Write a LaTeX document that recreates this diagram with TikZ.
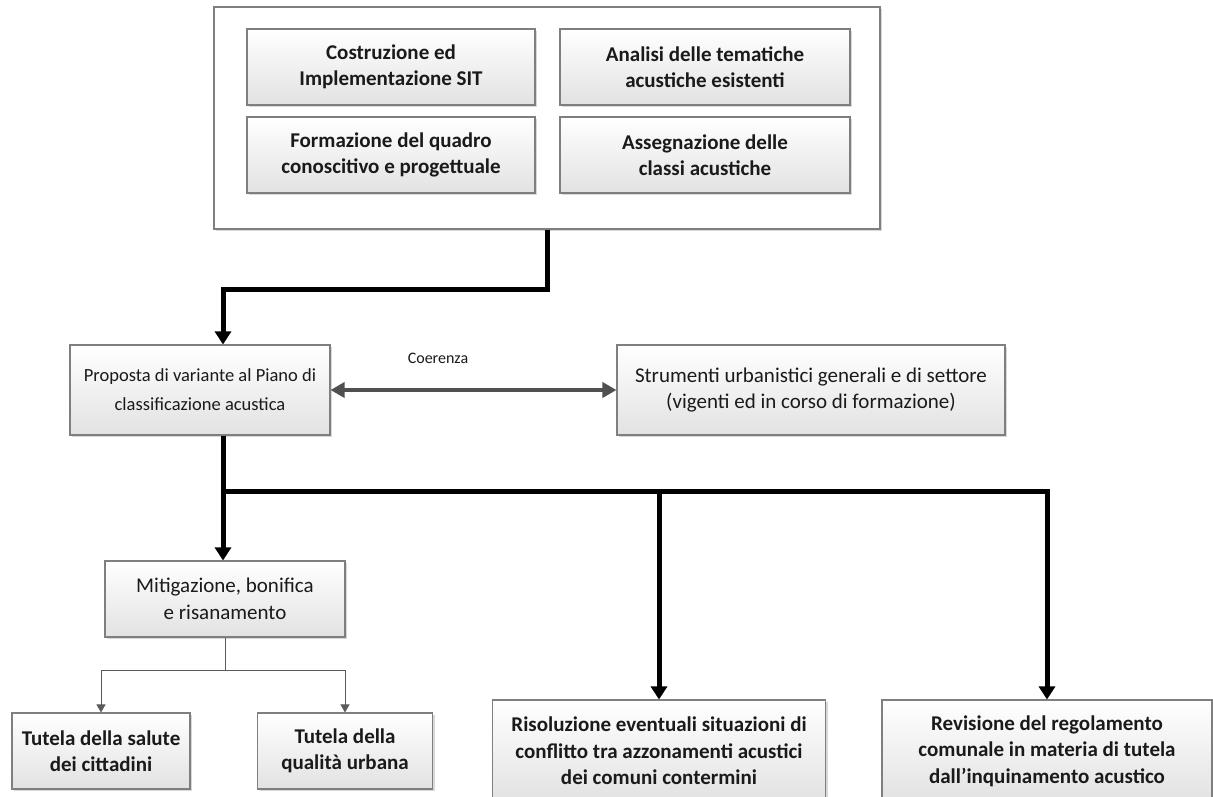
\documentclass[tikz,border=0pt]{standalone}
\usepackage{fontspec}
\setmainfont{Carlito}
\usetikzlibrary{arrows.meta,shadows}
\definecolor{boxline}{HTML}{7F7F7F}
\definecolor{boxbot}{HTML}{E2E2E2}
\definecolor{dgray}{HTML}{505050}
\definecolor{lgray}{HTML}{5A5A5A}
\definecolor{txt}{HTML}{1A1A1A}
\begin{document}
\begin{tikzpicture}[x=1pt,y=-1pt,
  box/.style={draw=boxline, line width=1.1pt, top color=white, bottom color=boxbot,
    align=center, inner sep=2pt, text=txt, font=\fontsize{21}{26.5}\selectfont,
    drop shadow={shadow xshift=2pt, shadow yshift=-2pt, fill=black!30, opacity=0.5}},
  bbox/.style={box, font=\fontsize{21}{26.5}\selectfont\bfseries},
  frame/.style={draw=boxline, line width=1.1pt, fill=white,
    drop shadow={shadow xshift=2pt, shadow yshift=-2pt, fill=black!30, opacity=0.5}},
  conn/.style={line width=5pt, black, -{Triangle[length=13pt,width=16pt]}},
  coer/.style={line width=4pt, dgray, {Triangle[length=14pt,width=15pt]}-{Triangle[length=14pt,width=15pt]}},
  thinconn/.style={line width=1pt, lgray, -{Triangle[length=8pt,width=9pt]}},
  thinline/.style={line width=1pt, lgray}
]
\clip (0,0) rectangle (1213,796);
\fill[white] (0,0) rectangle (1213,796);

% top frame and inner boxes
\node[frame, minimum width=666, minimum height=222] (outer) at (547,118) {};
\node[bbox, minimum width=288, minimum height=76] (c1) at (391,67) {Costruzione ed\\Implementazione SIT};
\node[bbox, minimum width=290, minimum height=76] (c2) at (705,67) {Analisi delle tematiche\\acustiche esistenti};
\node[bbox, minimum width=288, minimum height=76] (c3) at (391,155) {Formazione del quadro\\conoscitivo e progettuale};
\node[bbox, minimum width=290, minimum height=76] (c4) at (705,155) {Assegnazione delle\\classi acustiche};

% middle row
\node[box, font=\fontsize{18.5}{29}\selectfont, minimum width=260, minimum height=90] (prop) at (200,390) {Proposta di variante al Piano di\\classificazione acustica};
\node[box, minimum width=388, minimum height=90] (strum) at (811,390) {Strumenti urbanistici generali e di settore\\(vigenti ed in corso di formazione)};
\node[text=txt, font=\fontsize{16}{19}\selectfont] (coerlabel) at (438,358) {Coerenza};

% lower boxes
\node[box, minimum width=240, minimum height=76] (mit) at (225,599) {Mitigazione, bonifica\\e risanamento};
\node[bbox, minimum width=178, minimum height=76] (tut1) at (101,751) {Tutela della salute\\dei cittadini};
\node[bbox, minimum width=175, minimum height=76] (tut2) at (345,751) {Tutela della\\qualità urbana};
\node[bbox, minimum width=333, minimum height=102] (ris) at (659,751) {Risoluzione eventuali situazioni di\\conflitto tra azzonamenti acustici\\dei comuni contermini};
\node[bbox, minimum width=330, minimum height=102] (rev) at (1047,751) {Revisione del regolamento\\comunale in materia di tutela\\dall’inquinamento acustico};

% connectors
\coordinate (pin) at ([xshift=23pt]prop.north);
\coordinate (pout) at ([xshift=23pt]prop.south);
\draw[conn] (outer.south) -- ++(0,60) -| (pin);
\draw[coer] (prop.east) -- (strum.west);
\path (pout) ++(0,56) coordinate (bus);
\draw[conn] (pout) -- (pout |- mit.north);
\draw[conn] (bus) -| (ris.north);
\draw[conn] (bus) -| (rev.north);
\path (mit.south) ++(0,33) coordinate (mj);
\draw[thinline] (mit.south) -- (mj);
\draw[thinconn] (mj) -| (tut1.north);
\draw[thinconn] (mj) -| (tut2.north);
\end{tikzpicture}
\end{document}
